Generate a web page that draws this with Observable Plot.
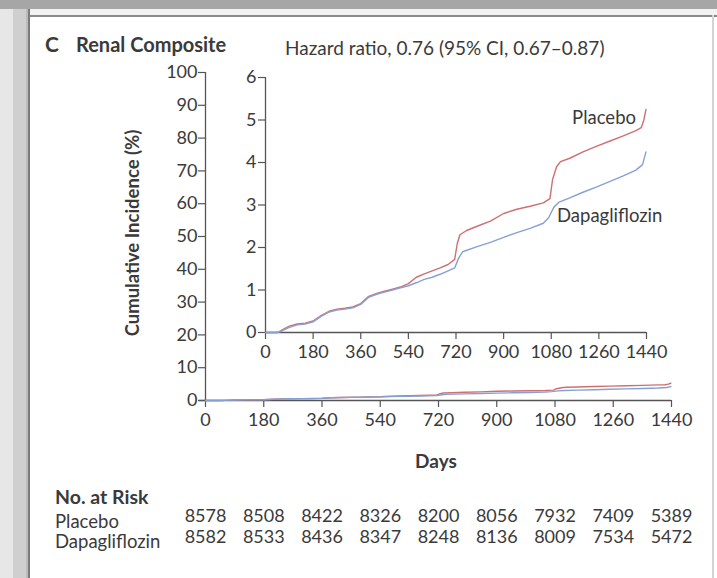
<!DOCTYPE html>
<html><head><meta charset="utf-8">
<script src="https://cdn.jsdelivr.net/npm/d3@7"></script>
<script src="https://cdn.jsdelivr.net/npm/@observablehq/plot@0.6"></script>
<style>
body{margin:0;background:#fff;}
#wrap{position:relative;width:717px;height:578px;overflow:hidden;font-family:Lato,"Noto Sans",sans-serif;color:#3a3a3a;background:#fff;}
.abs{position:absolute;white-space:nowrap;line-height:1;}
#main,#inset{position:absolute;left:0;top:0;}
#inset{left:200px;top:60px;}
</style></head><body>
<div id="wrap">
  <div class="abs" style="left:0;top:0;width:13px;height:578px;background:#e7e7e7"></div>
  <div class="abs" style="left:13px;top:0;width:13px;height:578px;background:#cfcfcf"></div>
  <div class="abs" style="left:26px;top:0;width:2px;height:578px;background:#bcbcbc"></div>
  <div class="abs" style="left:0;top:0;width:717px;height:9px;background:#a6a6a6"></div>
  <div class="abs" style="left:28px;top:9px;width:689px;height:6px;background:#f2f2f2"></div>
  <div class="abs" style="left:28px;top:15px;width:689px;height:2px;background:#8a8a8a"></div>
  <div class="abs" style="left:28px;top:9px;width:2px;height:569px;background:#7a7a7a"></div>
  <div class="abs" style="left:712px;top:15px;width:2px;height:563px;background:#d4d4d4"></div>
  <div id="main"></div>
  <div id="inset"></div>
  <div class="abs" style="left:45px;top:33px;font-weight:700;font-size:21px;">C</div>
  <div class="abs" style="left:76px;top:34px;font-weight:700;font-size:20px;">Renal Composite</div>
  <div class="abs" style="left:132px;top:233px;font-weight:700;font-size:18.5px;transform:translate(-50%,-50%) rotate(-90deg);">Cumulative Incidence (%)</div>
  <div class="abs" style="left:285px;top:38px;font-size:19px;">Hazard ratio, 0.76 (95% CI, 0.67–0.87)</div>
  <div class="abs" style="left:636px;top:108px;font-size:18.5px;transform:translateX(-100%);">Placebo</div>
  <div class="abs" style="left:557px;top:206px;font-size:18.5px;">Dapagliflozin</div>
  <div class="abs" style="left:436px;top:451px;font-size:19px;font-weight:700;transform:translateX(-50%);">Days</div>
  <div class="abs" style="left:55px;top:487px;font-size:19.5px;font-weight:700;">No. at Risk</div>
  <div class="abs" style="left:55px;top:512px;font-size:18.5px;">Placebo</div>
  <div class="abs" style="left:55px;top:532px;font-size:18.5px;">Dapagliflozin</div>
</div>
<script>
// Cumulative incidence (%)
const placeboDays = [0,45,60,90,120,150,180,210,240,270,300,330,360,390,420,450,480,510,540,570,600,630,660,690,715,725,735,760,800,850,900,950,1000,1050,1075,1085,1100,1115,1150,1200,1250,1300,1350,1400,1420,1430,1438];
const placeboPct  = [0,0,0.05,0.15,0.2,0.22,0.27,0.4,0.5,0.55,0.57,0.6,0.68,0.85,0.92,0.97,1.02,1.07,1.15,1.3,1.38,1.45,1.52,1.6,1.72,2.1,2.3,2.4,2.5,2.62,2.8,2.9,2.97,3.05,3.15,3.6,3.9,4.02,4.1,4.25,4.38,4.5,4.62,4.75,4.82,5.0,5.25];
const dapaDays = [0,45,60,90,120,150,180,210,240,270,300,330,360,390,420,450,480,510,540,570,600,630,660,690,715,730,745,800,850,900,950,1000,1050,1070,1090,1110,1150,1200,1250,1300,1350,1400,1425,1438];
const dapaPct  = [0,0,0.03,0.12,0.18,0.2,0.25,0.38,0.48,0.53,0.55,0.58,0.66,0.83,0.9,0.95,1.0,1.05,1.1,1.17,1.25,1.3,1.37,1.45,1.52,1.75,1.9,2.02,2.12,2.24,2.35,2.45,2.57,2.7,2.95,3.07,3.17,3.3,3.42,3.55,3.68,3.82,3.95,4.25];

const xTicks = [0,180,360,540,720,900,1080,1260,1440];
const mainYTicks = [0,10,20,30,40,50,60,70,80,90,100];
const insetYTicks = [0,1,2,3,4,5,6];
const riskDays = xTicks;
const riskPlacebo = [8578,8508,8422,8326,8200,8056,7932,7409,5389];
const riskDapa    = [8582,8533,8436,8347,8248,8136,8009,7534,5472];

const placebo = placeboDays.map((d,i)=>({day:d, pct:placeboPct[i]}));
const dapa = dapaDays.map((d,i)=>({day:d, pct:dapaPct[i]}));
const riskP = riskDays.map((d,i)=>({day:d, n:riskPlacebo[i]}));
const riskD = riskDays.map((d,i)=>({day:d, n:riskDapa[i]}));

const red = "#cf6f70", blue = "#86a0d6", axc = "#555";
const fmt = d => String(d);
const font = {fontSize:"18px", fontFamily:"Lato, 'Noto Sans', sans-serif", color:"#3a3a3a", background:"transparent", overflow:"visible"};

const main = Plot.plot({
  width:717, height:578,
  marginLeft:205, marginRight:46, marginTop:72, marginBottom:178,
  style:font,
  x:{domain:[0,1440]}, y:{domain:[0,100]},
  marks:[
    Plot.axisX({ticks:xTicks, tickFormat:fmt, tickSize:7, tickPadding:6, label:null, stroke:axc, strokeWidth:1.2, fill:"#3a3a3a"}),
    Plot.axisY({ticks:mainYTicks, tickFormat:fmt, tickSize:7, tickPadding:1, label:null, stroke:axc, strokeWidth:1.2, fill:"#3a3a3a"}),
    Plot.ruleY([0], {x1:-20, x2:1440, stroke:axc, strokeWidth:1.3}),
    Plot.ruleX([0], {y1:0, y2:100, stroke:axc, strokeWidth:1.3}),
    Plot.line(placebo, {x:"day", y:"pct", stroke:red, strokeWidth:1.4}),
    Plot.line(dapa, {x:"day", y:"pct", stroke:blue, strokeWidth:1.4}),
    Plot.text(riskP, {x:"day", frameAnchor:"bottom", dy:121, text:d=>String(d.n), fill:"#3a3a3a"}),
    Plot.text(riskD, {x:"day", frameAnchor:"bottom", dy:142, text:d=>String(d.n), fill:"#3a3a3a"})
  ]
});
document.getElementById("main").appendChild(main);

const inset = Plot.plot({
  width:470, height:310,
  marginLeft:65, marginRight:24, marginTop:17, marginBottom:38,
  style:font,
  x:{domain:[0,1440]}, y:{domain:[0,6]},
  marks:[
    Plot.axisX({ticks:xTicks, tickFormat:fmt, tickSize:7, tickPadding:6, label:null, stroke:axc, strokeWidth:1.2, fill:"#3a3a3a"}),
    Plot.axisY({ticks:insetYTicks, tickFormat:fmt, tickSize:7, tickPadding:2, label:null, stroke:axc, strokeWidth:1.2, fill:"#3a3a3a"}),
    Plot.ruleY([0], {x1:0, x2:1440, stroke:axc, strokeWidth:1.3}),
    Plot.ruleX([0], {y1:0, y2:6, stroke:axc, strokeWidth:1.3}),
    Plot.line(placebo, {x:"day", y:"pct", stroke:red, strokeWidth:1.4}),
    Plot.line(dapa, {x:"day", y:"pct", stroke:blue, strokeWidth:1.4})
  ]
});
document.getElementById("inset").appendChild(inset);
</script>
</body></html>
